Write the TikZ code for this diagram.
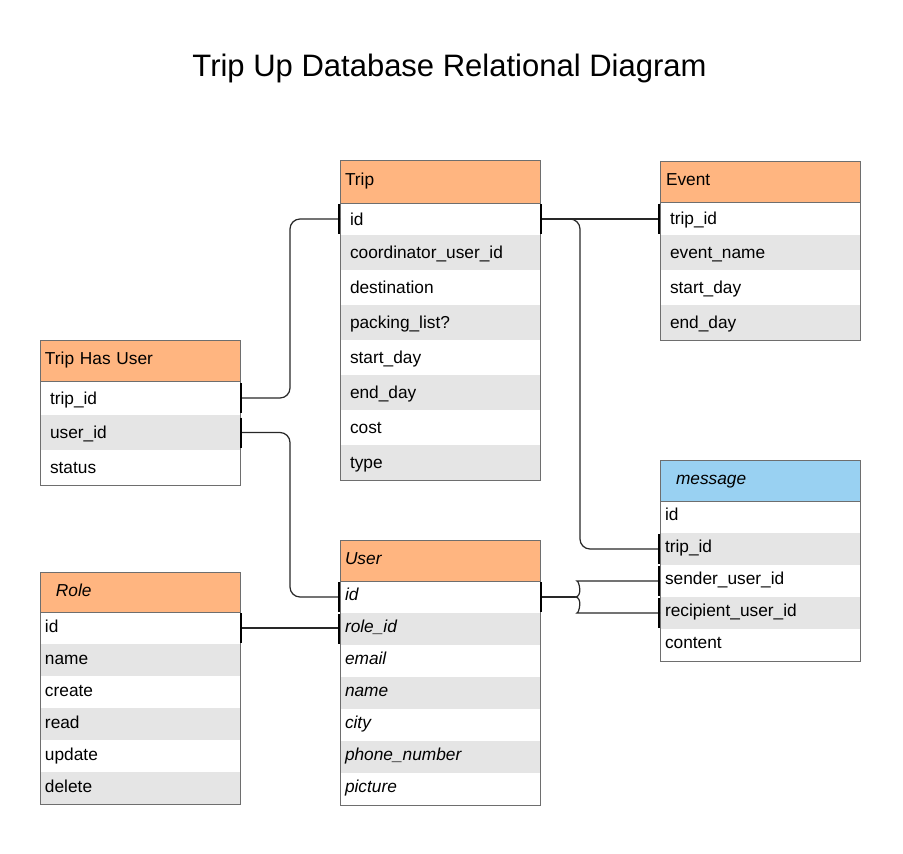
\documentclass[tikz,border=0pt]{standalone}
\usepackage{fontspec}
\setmainfont{Liberation Sans}
\usetikzlibrary{calc}
\definecolor{hdrorange}{RGB}{255,181,128}
\definecolor{hdrblue}{RGB}{153,209,242}
\definecolor{rowgray}{RGB}{229,229,229}
\definecolor{bordergray}{RGB}{110,110,110}
\definecolor{linecol}{RGB}{40,40,40}
\newcommand\ebar[2]{\draw[onebar] ($(#1)+(#2,-15)$) -- ($(#1)+(#2,15)$);}
\begin{document}
\begin{tikzpicture}[x=1pt,y=-1pt,
 cell/.style={anchor=north west, minimum width=200pt, inner ysep=0pt, align=left, text height=12pt, text depth=4pt, font=\fontsize{17.3}{20}\selectfont, outer sep=0pt},
 tall/.style={text height=14pt, text depth=2pt},
 short/.style={text height=11pt, text depth=5pt},
 in5/.style={inner xsep=5pt, text width=190pt},
 in10/.style={inner xsep=10pt, text width=180pt},
 in16/.style={inner xsep=16pt, text width=168pt},
 hdr/.style={cell, fill=hdrorange, draw=bordergray, line width=0.8pt},
 hdrb/.style={hdr, fill=hdrblue},
 whiterow/.style={cell, fill=white},
 grayrow/.style={cell, fill=rowgray},
 frame/.style={draw=bordergray, line width=0.8pt},
 conn/.style={draw=linecol, line width=1.2pt, rounded corners=10pt},
 onebar/.style={draw=black, line width=1.8pt},
]
\fill[white] (0,0) rectangle (903,854);
\useasboundingbox (0,0) rectangle (903,854);

\node[font=\fontsize{31}{36}\selectfont, anchor=base] (title) at (449.5,76) {Trip Up Database Relational Diagram};

% Trip
\node[whiterow,in10,tall,minimum height=32pt] (trip-id) at (340,203) {id};
\node[grayrow,in10,tall,minimum height=35pt] (trip-coord) at (340,235) {coordinator\_user\_id};
\node[whiterow,in10,tall,minimum height=35pt] (trip-dest) at (340,270) {destination};
\node[grayrow,in10,tall,minimum height=35pt] (trip-pack) at (340,305) {packing\_list?};
\node[whiterow,in10,tall,minimum height=35pt] (trip-start) at (340,340) {start\_day};
\node[grayrow,in10,tall,minimum height=35pt] (trip-end) at (340,375) {end\_day};
\node[whiterow,in10,tall,minimum height=35pt] (trip-cost) at (340,410) {cost};
\node[grayrow,in10,tall,minimum height=35pt] (trip-type) at (340,445) {type};
\node[hdr,in5,minimum height=43pt] (trip) at (340,160) {Trip};
\draw[frame] (trip.north west) rectangle (trip-type.south east);

% Event
\node[whiterow,in10,tall,minimum height=33pt] (event-trip) at (660,202) {trip\_id};
\node[grayrow,in10,tall,minimum height=35pt] (event-name) at (660,235) {event\_name};
\node[whiterow,in10,tall,minimum height=35pt] (event-start) at (660,270) {start\_day};
\node[grayrow,in10,tall,minimum height=35pt] (event-end) at (660,305) {end\_day};
\node[hdr,inner xsep=6pt,text width=188pt,minimum height=41pt] (event) at (660,161) {Event};
\draw[frame] (event.north west) rectangle (event-end.south east);

% Trip Has User
\node[whiterow,in10,tall,minimum height=34pt] (thu-trip) at (40,381) {trip\_id};
\node[grayrow,in10,tall,minimum height=35pt] (thu-user) at (40,415) {user\_id};
\node[whiterow,in10,tall,minimum height=35pt] (thu-status) at (40,450) {status};
\node[hdr,in5,minimum height=41pt] (thu) at (40,340) {Trip Has User};
\draw[frame] (thu.north west) rectangle (thu-status.south east);

% Role
\node[whiterow,in5,minimum height=32pt] (role-id) at (40,612) {id};
\node[grayrow,in5,minimum height=32pt] (role-name) at (40,644) {name};
\node[whiterow,in5,minimum height=32pt] (role-create) at (40,676) {create};
\node[grayrow,in5,minimum height=32pt] (role-read) at (40,708) {read};
\node[whiterow,in5,minimum height=32pt] (role-update) at (40,740) {update};
\node[grayrow,in5,minimum height=32pt] (role-delete) at (40,772) {delete};
\node[hdr,in16,minimum height=40pt] (role) at (40,572) {\itshape Role};
\draw[frame] (role.north west) rectangle (role-delete.south east);

% User
\node[whiterow,in5,short,minimum height=32pt] (user-id) at (340,581) {\itshape id};
\node[grayrow,in5,short,minimum height=32pt] (user-role) at (340,613) {\itshape role\_id};
\node[whiterow,in5,short,minimum height=32pt] (user-email) at (340,645) {\itshape email};
\node[grayrow,in5,short,minimum height=32pt] (user-name) at (340,677) {\itshape name};
\node[whiterow,in5,short,minimum height=32pt] (user-city) at (340,709) {\itshape city};
\node[grayrow,in5,short,minimum height=32pt] (user-phone) at (340,741) {\itshape phone\_number};
\node[whiterow,in5,short,minimum height=32pt] (user-pic) at (340,773) {\itshape picture};
\node[hdr,in5,minimum height=41pt] (user) at (340,540) {\itshape User};
\draw[frame] (user.north west) rectangle (user-pic.south east);

% message
\node[whiterow,in5,short,minimum height=32pt] (msg-id) at (660,501) {id};
\node[grayrow,in5,short,minimum height=32pt] (msg-trip) at (660,533) {trip\_id};
\node[whiterow,in5,short,minimum height=32pt] (msg-sender) at (660,565) {sender\_user\_id};
\node[grayrow,in5,short,minimum height=32pt] (msg-recip) at (660,597) {recipient\_user\_id};
\node[whiterow,in5,short,minimum height=32pt] (msg-content) at (660,629) {content};
\node[hdrb,in16,minimum height=41pt] (msg) at (660,460) {\itshape message};
\draw[frame] (msg.north west) rectangle (msg-content.south east);

% connectors
\draw[conn] (thu-trip.east) -- ($(thu-trip.east)+(50,0)$) |- (trip-id.west);
\draw[conn] (thu-user.east) -- ($(thu-user.east)+(50,0)$) |- (user-id.west);
\draw[conn] (role-id.east) -- (role-id.east -| user-role.west);
\draw[conn] (trip-id.east) -- (trip-id.east -| event-trip.west);
\draw[conn] (trip-id.east) -- ($(trip-id.east)+(40,0)$) |- (msg-trip.west);
\coordinate (split) at ($(user-id.east)+(35,0)$);
\coordinate (splitr) at ($(split)+(12,0)$);
\coordinate (su) at (splitr |- msg-sender.west);
\coordinate (rd) at (splitr |- msg-recip.west);
\draw[conn] (user-id.east) -- (split);
\draw[conn] (split) .. controls ($(split)+(8,0)$) and ($(su)+(-8,0)$) .. (su) -- (msg-sender.west);
\draw[conn] (split) .. controls ($(split)+(8,0)$) and ($(rd)+(-8,0)$) .. (rd) -- (msg-recip.west);

% one-markers
\ebar{trip-id.west}{-1}
\ebar{thu-trip.east}{1}
\ebar{thu-user.east}{1}
\ebar{user-id.west}{-1}
\ebar{role-id.east}{1}
\ebar{user-role.west}{-1}
\ebar{trip-id.east}{1}
\ebar{event-trip.west}{-1}
\ebar{msg-trip.west}{-1}
\ebar{user-id.east}{1}
\ebar{msg-sender.west}{-1}
\ebar{msg-recip.west}{-1}
\end{tikzpicture}
\end{document}
